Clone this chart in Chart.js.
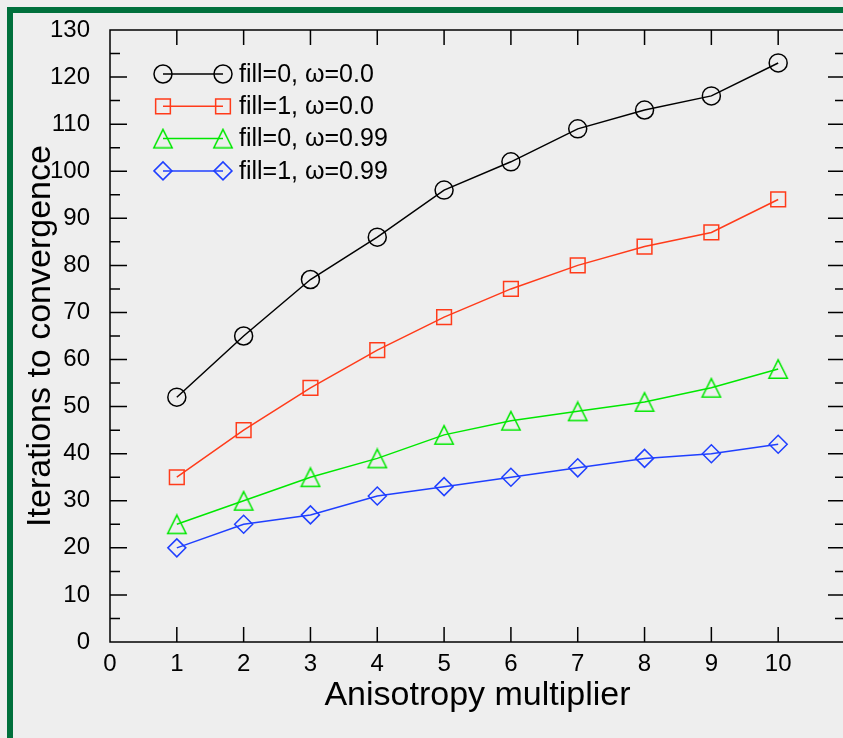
<!DOCTYPE html>
<html>
<head>
    <title>Iterations to convergence</title>
    <script src="https://cdn.jsdelivr.net/npm/chart.js"></script>
    <style>
        html, body { margin: 0; padding: 0; background: #eeeeee; overflow: hidden; }
        #frame {
            position: absolute; left: 7px; top: 7px; width: 900px; height: 800px;
            border-top: 6px solid #00703c; border-left: 6px solid #00703c;
        }
        #wrap { position: absolute; left: 0; top: 0; width: 860px; height: 738px; }
    </style>
</head>
<body>
    <div id="frame"></div>
    <div id="wrap"><canvas id="chart" width="860" height="738"></canvas></div>

    <script>
        const multipliers = [1, 2, 3, 4, 5, 6, 7, 8, 9, 10];
        const fill0omega0 = [52, 65, 77, 86, 96, 102, 109, 113, 116, 123];
        const fill1omega0 = [35, 45, 54, 62, 69, 75, 80, 84, 87, 94];
        const fill0omega99 = [25, 30, 35, 39, 44, 47, 49, 51, 54, 58];
        const fill1omega99 = [20, 25, 27, 31, 33, 35, 37, 39, 40, 42];
        const seriesLabels = ['fill=0, \u03c9=0.0', 'fill=1, \u03c9=0.0', 'fill=0, \u03c9=0.99', 'fill=1, \u03c9=0.99'];

        const FONT = "'Liberation Sans', Arial, Helvetica, sans-serif";
        const GREEN = '#00e800';

        // open triangle centred on its box (gnuplot style), used as a point image
        function triangleImage(color) {
            const c = document.createElement('canvas');
            c.width = 22; c.height = 22;
            const g = c.getContext('2d');
            g.strokeStyle = color;
            g.lineWidth = 1.5;
            g.beginPath();
            g.moveTo(11, 1.8);
            g.lineTo(20.2, 20.2);
            g.lineTo(1.8, 20.2);
            g.closePath();
            g.stroke();
            return c;
        }
        const triImg = triangleImage(GREEN);

        function pts(values) {
            return multipliers.map((x, i) => ({ x: x, y: values[i] }));
        }

        function series(label, values, color, style, radius) {
            return {
                label: label,
                data: pts(values),
                borderColor: color,
                borderWidth: 1.5,
                pointStyle: style,
                pointRadius: radius,
                pointHoverRadius: radius,
                pointBorderColor: color,
                pointBorderWidth: 1.5,
                pointBackgroundColor: 'rgba(0,0,0,0)',
                tension: 0,
                fill: false
            };
        }

        // draw one marker for the legend, same shapes as the datasets
        function marker(ctx, style, x, y, r) {
            if (typeof style !== 'string') {
                ctx.drawImage(style, x - style.width / 2, y - style.height / 2);
                return;
            }
            ctx.beginPath();
            if (style === 'circle') {
                ctx.arc(x, y, r, 0, Math.PI * 2);
            } else if (style === 'rect') {
                const s = r * Math.SQRT1_2;
                ctx.rect(x - s, y - s, 2 * s, 2 * s);
            } else if (style === 'rectRot') {
                ctx.moveTo(x - r, y);
                ctx.lineTo(x, y - r);
                ctx.lineTo(x + r, y);
                ctx.lineTo(x, y + r);
                ctx.closePath();
            }
            ctx.stroke();
        }

        const framePlugin = {
            id: 'framePlugin',
            afterDraw(chart) {
                const ctx = chart.ctx;
                const a = chart.chartArea;
                const xs = chart.scales.x;
                const ys = chart.scales.y;
                ctx.save();
                ctx.strokeStyle = '#000';
                ctx.lineWidth = 1.5;
                ctx.strokeRect(a.left, a.top, a.right - a.left, a.bottom - a.top);
                ctx.beginPath();
                for (let v = 1; v <= 10; v++) {
                    const px = xs.getPixelForValue(v);
                    ctx.moveTo(px, a.bottom); ctx.lineTo(px, a.bottom - 15);
                    ctx.moveTo(px, a.top); ctx.lineTo(px, a.top + 15);
                }
                for (let v = 5; v < 130; v += 5) {
                    const py = ys.getPixelForValue(v);
                    const len = v % 10 === 0 ? 17 : 10;
                    ctx.moveTo(a.left, py); ctx.lineTo(a.left + len, py);
                    ctx.moveTo(a.right, py); ctx.lineTo(a.right - len, py);
                }
                ctx.stroke();

                // legend
                const x1 = 163, x2 = 223, tx = 239;
                ctx.font = '25px ' + FONT;
                ctx.textBaseline = 'middle';
                ctx.textAlign = 'left';
                chart.data.datasets.forEach((ds, i) => {
                    const y = 74 + i * 32.3;
                    ctx.strokeStyle = ds.borderColor;
                    ctx.lineWidth = 1.5;
                    ctx.beginPath();
                    ctx.moveTo(x1, y); ctx.lineTo(x2, y);
                    ctx.stroke();
                    marker(ctx, ds.pointStyle, x1, y, ds.pointRadius);
                    marker(ctx, ds.pointStyle, x2, y, ds.pointRadius);
                    ctx.fillStyle = '#000';
                    ctx.fillText(ds.label, tx, y + 1);
                });
                ctx.restore();
            }
        };

        new Chart(document.getElementById('chart'), {
            type: 'line',
            data: {
                datasets: [
                    series(seriesLabels[0], fill0omega0, '#000000', 'circle', 9),
                    series(seriesLabels[1], fill1omega0, '#ff3b1a', 'rect', 10.4),
                    series(seriesLabels[2], fill0omega99, GREEN, triImg, 11),
                    series(seriesLabels[3], fill1omega99, '#1f3fff', 'rectRot', 9)
                ]
            },
            options: {
                responsive: false,
                animation: false,
                events: [],
                layout: { padding: { top: 30, right: 15, left: 0, bottom: 0 } },
                plugins: {
                    legend: { display: false },
                    tooltip: { enabled: false }
                },
                scales: {
                    x: {
                        type: 'linear',
                        min: 0,
                        max: 11,
                        afterFit(scale) { scale.height = 96; },
                        grid: { display: false, drawTicks: false },
                        border: { display: false },
                        ticks: {
                            stepSize: 1,
                            padding: 8,
                            color: '#000',
                            font: { family: FONT, size: 24 },
                            callback: v => (v <= 10 ? v : '')
                        },
                        title: {
                            display: true,
                            text: 'Anisotropy multiplier',
                            color: '#000',
                            font: { family: FONT, size: 34 },
                            padding: { top: 0, bottom: 22 }
                        }
                    },
                    y: {
                        min: 0,
                        max: 130,
                        afterFit(scale) { scale.width = 110; },
                        grid: { display: false, drawTicks: false },
                        border: { display: false },
                        ticks: {
                            stepSize: 10,
                            padding: 20,
                            color: '#000',
                            // small line height keeps the top label from pushing the plot down
                            font: { family: FONT, size: 24, lineHeight: 0.4 }
                        },
                        title: {
                            display: true,
                            text: 'Iterations to convergence',
                            color: '#000',
                            font: { family: FONT, size: 34 },
                            padding: { top: 20, bottom: 0 }
                        }
                    }
                }
            },
            plugins: [framePlugin]
        });
    </script>
</body>
</html>
